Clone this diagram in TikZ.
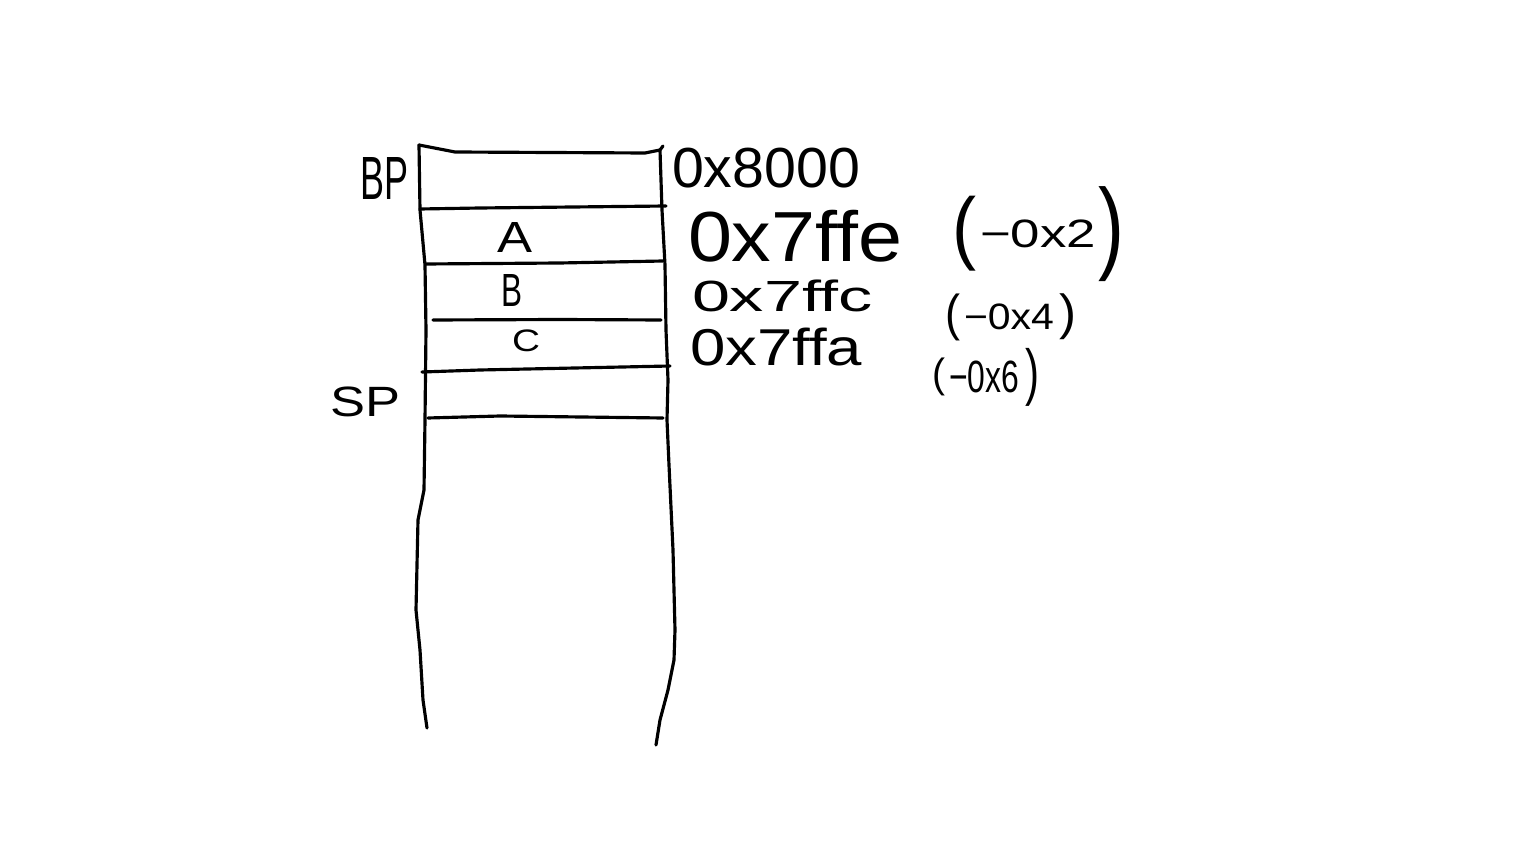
\documentclass[tikz,border=0pt]{standalone}
\usepackage{fontspec}
\setmainfont{Liberation Sans}
\newlength\pxu
\setlength\pxu{0.02cm}
\newcommand\fitbox[3]{\resizebox*{#1\pxu}{#2\pxu}{#3}}
\newcommand\vc[3]{\vcenter{\hbox{\fitbox{#1}{#2}{#3}}}}
\begin{document}
\begin{tikzpicture}[x=0.02cm,y=-0.02cm,
  ink/.style={line width=1.8pt,line join=round,line cap=round},
  lbl/.style={inner sep=0pt,outer sep=0pt}]
\useasboundingbox (0,0) rectangle (1536,864);
% stack walls
\coordinate (lt) at (419,145);
\coordinate (lb) at (427,728);
\coordinate (rt) at (663,146);
\coordinate (rb) at (656,745);
\draw[ink] (lt) -- (420,210) -- (425,265) -- (426,330) -- (425,420) -- (424,490)
  -- (418,520) -- (416,610) -- (420,650) -- (423,700) -- (lb);
\draw[ink] (rt) -- (660,150) -- (662,210) -- (665,265) -- (666,330) -- (668,380)
  -- (667,420) -- (669,465) -- (673,550) -- (675,630) -- (674,660) -- (668,690)
  -- (660,720) -- (rb);
% horizontal separators
\draw[ink] (lt) -- (455,152) -- (645,153) -- (660,150);
\draw[ink] (420,209) -- (480,208) -- (666,206);
\draw[ink] (426,264) -- (560,263) -- (663,261);
\draw[ink] (433,320) -- (560,319.5) -- (661,320);
\draw[ink] (422,372) -- (480,370) -- (670,366);
\draw[ink] (428,418) -- (500,416) -- (663,418);
% labels on the left
\node[lbl] (bp) at (384,179) {\fitbox{48}{42}{BP}};
\node[lbl] (sp) at (365,402) {\fitbox{70}{30}{SP}};
% slot contents
\node[lbl] (va) at (515,238) {\fitbox{35}{30}{A}};
\node[lbl] (vb) at (512,291) {\fitbox{21}{32}{B}};
\node[lbl] (vc) at (526,341) {\fitbox{28}{22}{C}};
% addresses
\node[lbl,anchor=west] (a0) at (672,168) {\fitbox{188}{40}{0x8000}};
\node[lbl,anchor=west] (a1) at (688,236) {\fitbox{214}{52}{0x7ffe}};
\node[lbl,anchor=west] (a2) at (692,296) {\fitbox{181}{32}{0x7ffc}};
\node[lbl,anchor=west] (a3) at (690,347) {\fitbox{172}{38}{0x7ffa}};
% offsets
\node[lbl,anchor=west] (o1) at (952,234)
  {$\vc{24}{75}{(}\hspace{4\pxu}\vc{116}{28}{−0x2}\hspace{2\pxu}\vc{26}{95}{)}$};
\node[lbl,anchor=west] (o2) at (945,317)
  {$\vc{15}{47}{(}\hspace{4\pxu}\vc{90}{26}{−0x4}\hspace{5\pxu}\vc{17}{46}{)}$};
\node[lbl,anchor=west] (o3) at (932,377)
  {$\vc{13}{38}{(}\hspace{4\pxu}\vc{70}{32}{−0x6}\hspace{6\pxu}\vc{14}{58}{)}$};
\end{tikzpicture}
\end{document}
